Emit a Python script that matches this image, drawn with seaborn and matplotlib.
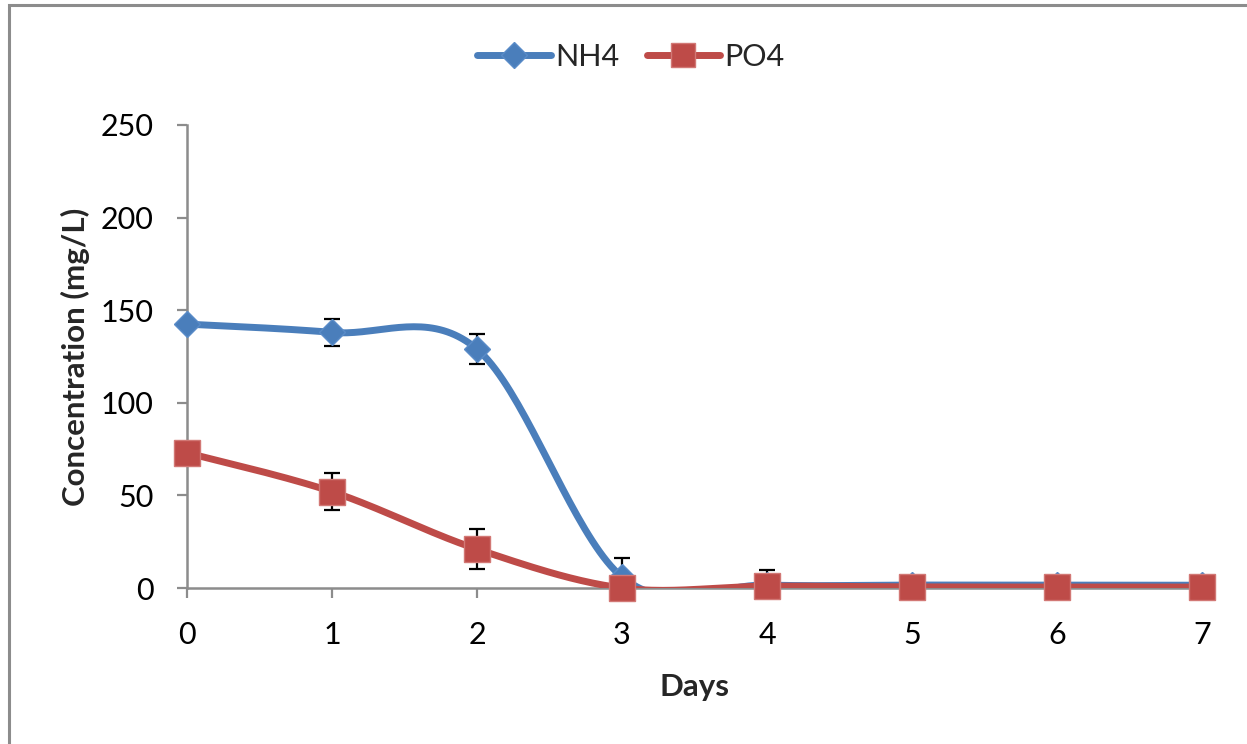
import matplotlib
matplotlib.use("Agg")
import matplotlib.pyplot as plt
from matplotlib.lines import Line2D
from matplotlib.patches import Rectangle
import numpy as np
import pandas as pd
import seaborn as sns

# %% data
days = [0, 1, 2, 3, 4, 5, 6, 7]
nh4 = [142.5, 138, 129, 6, 1.6, 1.6, 1.5, 1.5]
nh4_err = [2, 7.5, 8, 10, 8, 0.5, 0.5, 0.5]
po4 = [73, 52, 21, 0, 1, 0.6, 0.5, 0.5]
po4_err = [2, 10, 11, 0, 0.5, 0.5, 0.5, 0.5]
y_ticks = [0, 50, 100, 150, 200, 250]

blue = '#4A7EBB'
red = '#BE4B48'


# %% Excel-style smoothed line (Catmull-Rom bezier through the points)
def smooth(x, y, n=40):
    pts = np.column_stack([x, y]).astype(float)
    out = [pts[:1]]
    t = np.linspace(0, 1, n)[1:, None]
    for i in range(len(pts) - 1):
        p0 = pts[max(i - 1, 0)]
        p1 = pts[i]
        p2 = pts[i + 1]
        p3 = pts[min(i + 2, len(pts) - 1)]
        c1 = p1 + (p2 - p0) / 6
        c2 = p2 - (p3 - p1) / 6
        seg = (1 - t)**3 * p1 + 3 * (1 - t)**2 * t * c1 + 3 * (1 - t) * t**2 * c2 + t**3 * p2
        out.append(seg)
    return np.vstack(out)


sns.set_theme(style='white')
plt.rcParams['font.family'] = ['Lato', 'DejaVu Sans']

fig = plt.figure(figsize=(12.47, 7.44), dpi=100)
ax = fig.add_axes([187 / 1247, 1 - 588 / 744, (1202 - 187) / 1247, (588 - 125) / 744])

# chart border
fig.patches.append(Rectangle((8.5 / 1247, -0.1), 1.2, 1.1 - 5.5 / 744,
                             transform=fig.transFigure, fill=False,
                             edgecolor='#8C8C8C', linewidth=2.2, zorder=0))

# error bars under the markers
ax.errorbar(days, nh4, yerr=nh4_err, fmt='none', ecolor='black',
            elinewidth=1.6, capsize=6, capthick=1.6, zorder=2)
ax.errorbar(days, po4, yerr=po4_err, fmt='none', ecolor='black',
            elinewidth=1.6, capsize=6, capthick=1.6, zorder=2)

for vals, col, mk, ms, edge in [(nh4, blue, 'D', 13.5, '#5A8CC8'),
                                (po4, red, 's', 18.5, '#D27875')]:
    curve = smooth(days, vals)
    df_curve = pd.DataFrame({'x': curve[:, 0], 'y': curve[:, 1]})
    sns.lineplot(data=df_curve, x='x', y='y', sort=False, color=col,
                 linewidth=5, ax=ax, zorder=3, solid_capstyle='round')
    ax.plot(days, vals, linestyle='none', marker=mk, markersize=ms,
            markerfacecolor=col, markeredgecolor=edge, markeredgewidth=1,
            zorder=4, clip_on=False)

ax.set_xlim(0, 7)
ax.set_ylim(0, 250)
ax.set_xticks(days)
ax.set_yticks(y_ticks)
ax.tick_params(axis='both', labelsize=22, colors='#8C8C8C', labelcolor='black',
               length=7, width=1.6, direction='out', left=True, bottom=True)
ax.tick_params(axis='y', pad=17)
ax.tick_params(axis='x', pad=17)

for s in ['top', 'right']:
    ax.spines[s].set_visible(False)
for s in ['left', 'bottom']:
    ax.spines[s].set_color('#8C8C8C')
    ax.spines[s].set_linewidth(1.8)

ax.set_xlabel('Days', fontsize=22.5, fontweight='bold', labelpad=17)
ax.set_ylabel('Concentration (mg/L)', fontsize=22.5, fontweight='bold', labelpad=8)

handles = [Line2D([], [], color=blue, linewidth=5, marker='D', markersize=13,
                  markeredgecolor='#5A8CC8', solid_capstyle='round'),
           Line2D([], [], color=red, linewidth=5, marker='s', markersize=17,
                  markeredgecolor='#D27875', solid_capstyle='round')]
fig.legend(handles, ['NH4', 'PO4'], loc='center', bbox_to_anchor=(631 / 1247, 1 - 57 / 744),
           ncol=2, frameon=False, fontsize=22, handlelength=2.4, handletextpad=0.15,
           columnspacing=0.9)

fig.savefig('out.png', dpi=100)
